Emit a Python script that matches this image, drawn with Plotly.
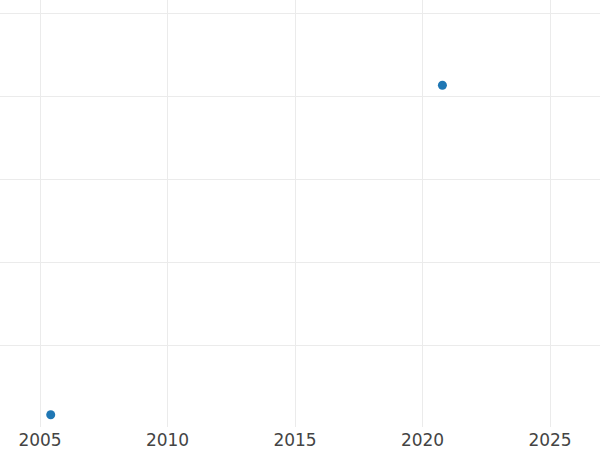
import plotly.graph_objects as go

years = [2005.42, 2020.78]
values = [1.6, 41.3]
x_ticks = [2005, 2010, 2015, 2020, 2025]

fig = go.Figure(go.Scatter(
    x=years, y=values, mode="markers",
    marker=dict(color="#1f77b4", size=9),
    showlegend=False,
))

fig.update_layout(
    width=600, height=450,
    margin=dict(l=0, r=0, t=0, b=23, autoexpand=False),
    paper_bgcolor="white", plot_bgcolor="white",
    font=dict(family="DejaVu Sans", size=17, color="#444444"),
)
fig.update_xaxes(
    range=[2003.431, 2026.96], tickvals=x_ticks, ticktext=[str(t) for t in x_ticks],
    showgrid=True, gridcolor="#ebebeb", gridwidth=1, zeroline=False,
    showline=False, ticks="", ticklabelstandoff=1, automargin=False,
)
fig.update_yaxes(
    range=[0.12, 51.57], dtick=10, tick0=0, showticklabels=False,
    showgrid=True, gridcolor="#ebebeb", gridwidth=1, zeroline=False,
    showline=False, ticks="", automargin=False,
)

fig.write_html(
    "out.html",
    config={"displayModeBar": False},
    post_script="document.body.style.margin='0';document.body.style.overflow='hidden';",
)
